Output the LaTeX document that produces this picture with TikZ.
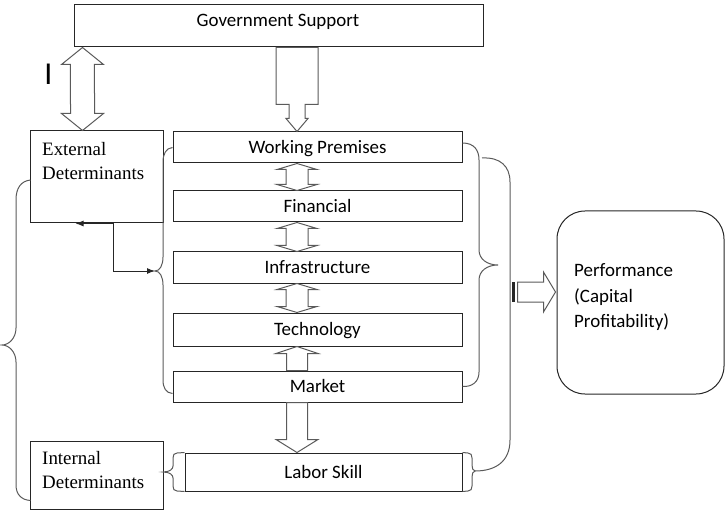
\documentclass[tikz,border=0pt]{standalone}
\usepackage{fontspec}
\setmainfont{Carlito}
\newfontfamily\serifface{Liberation Serif}
\usetikzlibrary{calc,arrows.meta}

% block arrow with a head at both ends: #1 first tip, #2 second tip,
% #3 head half width, #4 shaft half width, #5 head length (towards #2)
\newcommand\twinblock[5]{%
  \draw[blockarrow] (#1) -- ++(#3,#5) -- ++(-#3+#4,0) -- ($(#2)+(#4,-#5)$)
    -- ++(#3-#4,0) -- (#2) -- ++(-#3,-#5) -- ++(#3-#4,0)
    -- ($(#1)+(-#4,#5)$) -- ++(-#3+#4,0) -- cycle;}
% block arrow with one head: #1 tip, #2 tail centre,
% #3 head half width, #4 shaft half width, #5 head length (towards tail)
\newcommand\singleblock[5]{%
  \draw[blockarrow] (#1) -- ++(#3,#5) -- ++(-#3+#4,0) -- ($(#2)+(#4,0)$)
    -- ($(#2)+(-#4,0)$) -- ($(#1)+(-#4,#5)$) -- ++(-#3+#4,0) -- cycle;}

\definecolor{edgecol}{HTML}{262626}
\definecolor{arrcol}{HTML}{5A5A5A}

\begin{document}
\begin{tikzpicture}[x=1bp,y=-1bp,
  box/.style={draw=edgecol, line width=1bp, rectangle, inner sep=0pt,
    text height=12.5bp, text depth=0bp, font=\fontsize{19}{23}\selectfont},
  stackbox/.style={box, minimum width=289bp, minimum height=31bp},
  sanslabel/.style={inner sep=0pt, font=\fontsize{19}{26}\selectfont},
  seriflabel/.style={inner sep=0pt, align=left, font=\serifface\fontsize{19}{24.5}\selectfont},
  blockarrow/.style={draw=arrcol, line width=1bp, fill=white, line join=miter},
  bracecurve/.style={draw=arrcol, line width=1bp},
  linkarrow/.style={draw=edgecol, line width=1bp, -{Latex[length=8bp,width=6bp]}}
]
\useasboundingbox (0,0) rectangle (725,511);

% boxes
\node[box, minimum width=408bp, minimum height=42bp] (gov) at (279,26) {};
\node[sanslabel, anchor=base] (govtext) at (278,27) {Government Support};

\node[box, minimum width=132bp, minimum height=92bp] (ext) at (97,177) {};
\node[seriflabel, anchor=north west] (exttext) at (42,142) {External\\Determinants};

\node[box, minimum width=132bp, minimum height=68bp] (intd) at (97,475) {};
\node[seriflabel, anchor=north west] (inttext) at (42,451) {Internal\\Determinants};

\node[stackbox] (wp) at (317.5,147.5) {Working Premises};
\node[stackbox] (fin) at (317.5,206.5) {Financial};
\node[stackbox] (inf) at (317.5,267.5) {Infrastructure};
\node[stackbox, minimum height=33bp] (tech) at (317.5,329.5) {Technology};
\node[stackbox] (market) at (317.5,386.5) {Market};
\node[box, minimum width=277bp, minimum height=38bp] (labor) at (323.5,472) {Labor Skill};

\node[box, minimum width=167bp, minimum height=183bp, rounded corners=28bp] (perf) at (640.5,302.5) {};
\node[sanslabel, anchor=north west, align=left] (perftext) at (574,263) {Performance\\(Capital\\Profitability)};

\node[inner sep=0pt, font=\fontsize{32}{32}\selectfont, anchor=base] (mark) at (48.5,85) {I};

% block arrows from the support box
\coordinate (gl) at ($(gov.south west)+(8,0)$);
\coordinate (el) at ($(ext.north west)+(52,0)$);
\twinblock{gl}{el}{21}{12}{17}

\coordinate (gt) at ($(gov.south)+(18,0)$);
\coordinate (wt) at ($(wp.north)+(-20.5,0)$);
\draw[blockarrow] ($(gt)+(-21,0)$) -- ($(gt)+(-21,57)$) -- ($(gt)+(-8,57)$)
  -- ($(gt)+(-8,71)$) -- ($(gt)+(-11,71)$) -- (wt) -- ($(gt)+(11,71)$)
  -- ($(gt)+(8,71)$) -- ($(gt)+(8,57)$) -- ($(gt)+(21,57)$) -- ($(gt)+(21,0)$) -- cycle;

% links inside the stack
\coordinate (a1) at ($(wp.south)+(-20.5,0)$);
\coordinate (a2) at ($(fin.north)+(-20.5,0)$);
\twinblock{a1}{a2}{20}{11}{6}
\coordinate (b1) at ($(fin.south)+(-20.5,0)$);
\coordinate (b2) at ($(inf.north)+(-20.5,0)$);
\twinblock{b1}{b2}{20}{11}{6}
\coordinate (c1) at ($(inf.south)+(-20.5,0)$);
\coordinate (c2) at ($(tech.north)+(-20.5,0)$);
\twinblock{c1}{c2}{20}{11}{6}
\coordinate (d1) at ($(tech.south)+(-20.5,0)$);
\coordinate (d2) at ($(market.north)+(-20.5,0)$);
\singleblock{d1}{d2}{21}{10.5}{7}
\coordinate (e1) at ($(labor.north)+(-26.5,0)$);
\coordinate (e2) at ($(market.south)+(-20.5,0)$);
\singleblock{e1}{e2}{21}{10.5}{-13}

% left brace grouping external and internal determinants
\draw[bracecurve] ($(ext.west)+(0,3)$) .. controls (21,181) and (16,188) .. (16,200)
  -- (16,328) .. controls (16,338) and (9,345) .. (2,345)
  .. controls (9,345) and (16,352) .. (16,362)
  -- (16,485) .. controls (16,495) and (22,500) .. ($(intd.south west)+(0,-9)$);

% brace on the left of the stack
\coordinate (mtip) at (155,271);
\draw[bracecurve] (wp.west) .. controls (166,148) and (163,154) .. (163,162)
  -- (163,257) .. controls (163,265) and (160,271) .. (mtip)
  .. controls (160,271) and (163,277) .. (163,285)
  -- (163,380) .. controls (163,388) and (166,393) .. ($(market.south west)+(0,-9)$);

% link from the external box to the stack
\coordinate (ej) at ($(ext.south east)+(-50,0)$);
\coordinate (eh) at ($(ext.south west)+(45,0)$);
\draw[linkarrow] (ej) -- (eh);
\draw[linkarrow] (ej) |- (mtip);

% brace on the right of the stack
\coordinate (rtip) at (498,265);
\draw[bracecurve] ($(wp.east)+(0,-4.5)$) .. controls (474,143) and (479,150) .. (479,160)
  -- (479,250) .. controls (479,259) and (487,265) .. (rtip)
  .. controls (487,265) and (479,271) .. (479,280)
  -- (479,372) .. controls (479,382) and (472,387) .. (market.east);

% labour skill end caps
\draw[bracecurve] (labor.north west) -- (177,453) .. controls (174,453) and (173,455) .. (173,458)
  -- (173,466) .. controls (173,469) and (170,472) .. (163,472)
  .. controls (170,472) and (173,475) .. (173,478)
  -- (173,486) .. controls (173,489) and (174,491) .. (177,491) -- (labor.south west);
\coordinate (lrtip) at (475,471);
\draw[bracecurve] (labor.north east) -- (468,453) .. controls (471,453) and (472,455) .. (472,458)
  -- (472,465) .. controls (472,468) and (473,471) .. (lrtip)
  .. controls (473,471) and (472,474) .. (472,477)
  -- (472,486) .. controls (472,489) and (471,491) .. (468,491) -- (labor.south east);

% outer bracket on the right
\draw[bracecurve] (482,158) .. controls (500,157) and (510,166) .. (510,182)
  -- (510,440) .. controls (510,462) and (495,471) .. (lrtip);

% striped arrow into the performance box
\coordinate (sp) at ($(perf.west)+(-1,-10.5)$);
\coordinate (st) at ($(perf.west)+(-39,-10.5)$);
\fill[edgecol] ($(st)+(-6,-10)$) rectangle ($(st)+(-2.5,10)$);
\draw[blockarrow] ($(st)+(0,-10)$) -- ($(sp)+(-12,-10)$) -- ($(sp)+(-12,-20)$) -- (sp)
  -- ($(sp)+(-12,20)$) -- ($(sp)+(-12,10)$) -- ($(st)+(0,10)$) -- cycle;
\end{tikzpicture}
\end{document}
